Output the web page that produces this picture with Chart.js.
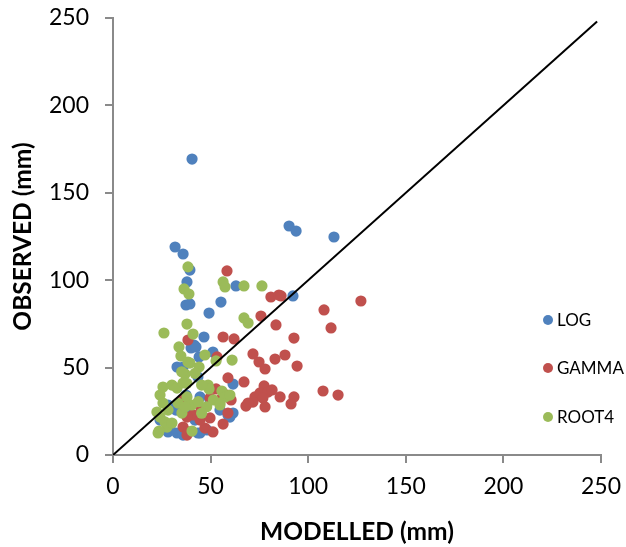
<!DOCTYPE html>
<html>
<head>
<meta charset="utf-8">
<script src="https://cdn.jsdelivr.net/npm/chart.js@4/dist/chart.umd.min.js"></script>
<style>
html,body{margin:0;padding:0;background:#fff;}
#wrap{width:626px;height:547px;position:relative;}
</style>
</head>
<body>
<div id="wrap"><canvas id="c" width="626" height="547"></canvas></div>
<script>
const SERIES_NAMES = ['LOG', 'GAMMA', 'ROOT4'];
const SERIES_COLORS = ['#4F81BD', '#C0504D', '#9BBB59'];

const LOG_MODELLED = [40.5,31.8,35.9,90.2,93.8,113.2,39.4,37.9,37.4,39.4,55.3,63.0,92.2,49.2,46.6,41.5,40.0,51.2,44.1,32.8,43.5,61.5,58.9,28.2,43.5,28.2,24.1,29.2,32.8,35.9,44.6,48.2,44.6,35.9,59.9,42.5,61.5,32.3,37.4,49.7,42.0,38.4,54.8];
const LOG_OBSERVED = [169.3,119.0,115.0,131.0,128.1,124.7,105.8,99.0,85.8,86.4,87.5,96.7,91.0,81.2,67.5,62.9,61.2,58.9,56.1,50.3,44.6,24.0,22.9,13.2,12.6,28.6,20.0,16.0,12.6,11.4,12.6,14.3,33.2,50.3,21.7,61.8,40.6,25.7,34.3,31.5,20.0,22.9,25.7];

const GAMMA_MODELLED = [58.4,80.9,85.0,86.1,127.0,108.1,111.7,92.7,83.5,75.8,56.4,62.0,38.4,71.7,74.8,77.9,83.0,88.1,94.3,53.3,58.9,67.1,107.6,115.3,77.4,72.7,75.3,79.4,81.5,76.8,85.6,92.7,91.2,77.9,68.1,71.7,52.8,54.8,58.4,60.5,56.4,35.9,38.4,47.1,37.9,41.0,37.9,51.2,35.3,58.9,69.2,44.6,49.7,49.7,45.0];
const GAMMA_OBSERVED = [105.3,90.4,91.5,91.0,88.1,83.0,72.7,66.9,74.4,79.5,67.5,66.4,65.8,57.8,53.2,49.2,54.9,57.2,50.9,56.1,44.1,41.8,36.6,34.3,39.5,33.2,35.5,36.0,37.2,32.6,33.2,33.2,29.2,27.5,28.0,30.3,37.8,31.5,34.3,31.5,17.7,16.0,13.2,15.4,11.4,22.9,21.7,13.2,31.5,24.0,29.7,20.0,21.2,32.6,27.0];

const ROOT4_MODELLED = [38.4,36.4,38.9,56.4,57.4,67.1,76.3,67.1,69.2,37.9,26.1,41.0,33.8,34.8,47.1,52.8,61.0,39.4,44.1,36.9,48.7,49.2,55.8,57.4,54.8,22.5,24.1,26.6,27.7,23.6,40.5,24.1,25.6,28.2,33.3,35.3,30.2,23.1,37.9,25.6,30.2,32.8,35.9,38.4,35.2,42.0,37.8,45.4,59.9,40.3,43.7,48.0,51.4,36.9,54.8,45.4];
const ROOT4_OBSERVED = [107.6,95.0,92.1,99.0,96.1,96.7,96.7,78.4,75.5,74.9,69.8,69.2,61.8,56.6,57.2,53.8,54.3,52.6,50.3,46.3,40.0,37.8,36.6,33.2,29.7,24.6,21.7,18.9,16.0,13.7,13.7,34.3,29.7,25.7,29.7,24.0,18.3,12.6,33.2,38.9,40.0,38.3,41.2,53.2,47.6,46.7,41.0,40.0,34.3,28.6,30.5,27.6,31.5,27.6,28.6,23.9];

const ONE_TO_ONE_X = [0, 248];
const ONE_TO_ONE_Y = [0, 248];

const AXIS_TICKS = [0, 50, 100, 150, 200, 250];
const X_TITLE = 'MODELLED (mm)';
const Y_TITLE = 'OBSERVED (mm)';

function pts(xs, ys) { return xs.map((x, i) => ({x: x, y: ys[i]})); }

const FONT = 'Lato, "Open Sans", sans-serif';
const AXIS_COLOR = '#8a8a8a';

const legendPlugin = {
  id: 'sideLegend',
  afterDraw(chart) {
    const ctx = chart.ctx;
    ctx.save();
    ctx.font = '17px ' + FONT;
    ctx.textBaseline = 'middle';
    ctx.textAlign = 'left';
    const ys = [320, 368, 417];
    SERIES_NAMES.forEach((n, i) => {
      ctx.fillStyle = SERIES_COLORS[i];
      ctx.beginPath();
      ctx.arc(548, ys[i], 5, 0, Math.PI * 2);
      ctx.fill();
      ctx.fillStyle = '#000';
      ctx.fillText(n, 557, ys[i] + 1);
    });
    ctx.restore();
  }
};

const scatterSets = [
  [LOG_MODELLED, LOG_OBSERVED],
  [GAMMA_MODELLED, GAMMA_OBSERVED],
  [ROOT4_MODELLED, ROOT4_OBSERVED]
].map((s, i) => ({
  label: SERIES_NAMES[i],
  data: pts(s[0], s[1]),
  backgroundColor: SERIES_COLORS[i],
  borderColor: SERIES_COLORS[i],
  borderWidth: 0,
  pointRadius: 5.6,
  pointHoverRadius: 5.6,
  order: 3 - i
}));

new Chart(document.getElementById('c'), {
  type: 'scatter',
  data: {
    datasets: scatterSets.concat([{
      label: '1:1',
      data: pts(ONE_TO_ONE_X, ONE_TO_ONE_Y),
      showLine: true,
      borderColor: '#000',
      borderWidth: 2,
      pointRadius: 0,
      fill: false,
      order: 0
    }])
  },
  options: {
    responsive: false,
    animation: false,
    events: [],
    layout: { padding: { left: 0, right: 25, top: 18, bottom: 0 } },
    plugins: { legend: { display: false }, tooltip: { enabled: false } },
    scales: {
      x: {
        type: 'linear', min: 0, max: 250,
        afterBuildTicks(scale) { scale.ticks = AXIS_TICKS.map(v => ({value: v})); },
        afterFit(scale) { scale.height = 92; scale.paddingLeft = 0; scale.paddingRight = 0; },
        border: { color: AXIS_COLOR, width: 2 },
        grid: { drawOnChartArea: false, drawTicks: true, tickLength: 8, color: AXIS_COLOR, lineWidth: 2 },
        ticks: { color: '#000', font: { family: FONT, size: 23 }, padding: 10, maxRotation: 0 },
        title: { display: true, text: X_TITLE, color: '#000', font: { family: FONT, size: 24.5, weight: 'bold' }, padding: { top: 5, bottom: 0 } }
      },
      y: {
        type: 'linear', min: 0, max: 250,
        afterBuildTicks(scale) { scale.ticks = AXIS_TICKS.map(v => ({value: v})); },
        afterFit(scale) { scale.width = 113; scale.paddingTop = 0; scale.paddingBottom = 0; },
        border: { color: AXIS_COLOR, width: 2 },
        grid: { drawOnChartArea: false, drawTicks: true, tickLength: 8, color: AXIS_COLOR, lineWidth: 2 },
        ticks: { color: '#000', font: { family: FONT, size: 23 }, padding: 16 },
        title: { display: true, text: Y_TITLE, color: '#000', font: { family: FONT, size: 24.5, weight: 'bold' }, padding: { top: 8, bottom: 0 } }
      }
    }
  },
  plugins: [legendPlugin]
});
</script>
</body>
</html>
